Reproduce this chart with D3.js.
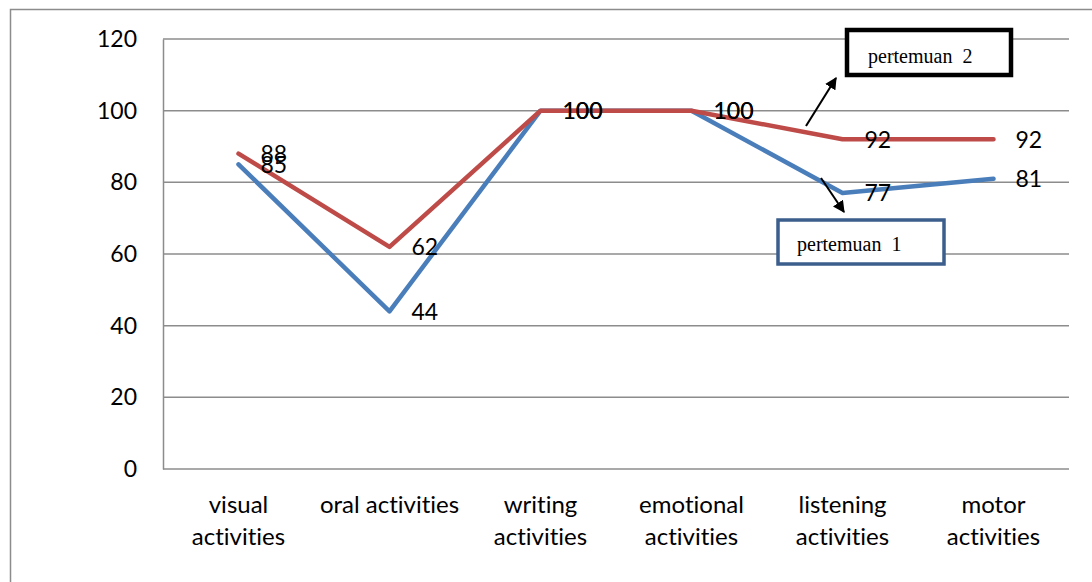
<!DOCTYPE html>
<html>
<head>
<meta charset="utf-8">
<script src="https://cdn.jsdelivr.net/npm/d3@7"></script>
<style>
    body { margin: 0; background: #fff; }
    svg { display: block; font-variant-ligatures: none; }
</style>
</head>
<body>
<div id="chart"></div>
<script>
// Chart data
const categories = [
    ['visual', 'activities'],
    ['oral activities'],
    ['writing', 'activities'],
    ['emotional', 'activities'],
    ['listening', 'activities'],
    ['motor', 'activities']
];
const pertemuan1 = [85, 44, 100, 100, 77, 81];
const pertemuan2 = [88, 62, 100, 100, 92, 92];
const yTicks = [0, 20, 40, 60, 80, 100, 120];
const seriesNames = ['pertemuan 1', 'pertemuan 2'];

const width = 1092;
const height = 582;
const margin = { top: 39, right: 23, bottom: 113, left: 163 };
const innerW = width - margin.left - margin.right;
const innerH = height - margin.top - margin.bottom;

const svg = d3.select('#chart')
    .append('svg')
    .attr('width', width)
    .attr('height', height)
    .style('font-family', 'Lato, "Open Sans", sans-serif');

// Outer chart border
svg.append('rect')
    .attr('x', 10.5)
    .attr('y', 9.5)
    .attr('width', 1100)
    .attr('height', 600)
    .attr('fill', 'none')
    .attr('stroke', '#8c8c8c')
    .attr('stroke-width', 1.5);

const g = svg.append('g')
    .attr('transform', `translate(${margin.left},${margin.top})`);

const keys = categories.map((d, i) => i);

const x = d3.scaleBand()
    .domain(keys)
    .range([0, innerW]);

const y = d3.scaleLinear()
    .domain([0, 120])
    .range([innerH, 0]);

const cx = i => x(i) + x.bandwidth() / 2;

// Gridlines
g.append('g')
    .attr('class', 'grid')
    .selectAll('line')
    .data(yTicks)
    .join('line')
    .attr('x1', 0)
    .attr('x2', innerW)
    .attr('y1', d => y(d))
    .attr('y2', d => y(d))
    .attr('stroke', '#8c8c8c')
    .attr('stroke-width', 1.5);

// Y axis
const yAxis = g.append('g')
    .call(d3.axisLeft(y).tickValues(yTicks).tickSize(0).tickPadding(26));
yAxis.select('.domain')
    .attr('stroke', '#8c8c8c')
    .attr('stroke-width', 1.5);
yAxis.selectAll('text')
    .attr('font-size', 23)
    .attr('font-family', 'Lato, "Open Sans", sans-serif')
    .attr('fill', '#000');

// X axis labels
const xLabels = g.append('g')
    .attr('class', 'x-labels')
    .selectAll('text')
    .data(categories)
    .join('text')
    .attr('text-anchor', 'middle')
    .attr('font-size', 24)
    .attr('fill', '#000');

xLabels.selectAll('tspan')
    .data((d, i) => d.map(line => ({ line, i })))
    .join('tspan')
    .attr('x', d => cx(d.i))
    .attr('y', (d, j) => innerH + 44 + j * 32)
    .text(d => d.line);

// Lines
const line = d3.line()
    .x((d, i) => cx(i))
    .y(d => y(d));

const series = [
    { name: seriesNames[0], values: pertemuan1, color: '#4a7ebb' },
    { name: seriesNames[1], values: pertemuan2, color: '#be4b48' }
];

series.forEach(s => {
    g.append('path')
        .datum(s.values)
        .attr('fill', 'none')
        .attr('stroke', s.color)
        .attr('stroke-width', 4.5)
        .attr('stroke-linejoin', 'round')
        .attr('stroke-linecap', 'round')
        .attr('d', line);
});

// Data labels
series.forEach(s => {
    g.append('g')
        .selectAll('text')
        .data(s.values)
        .join('text')
        .attr('x', (d, i) => cx(i) + 22)
        .attr('y', d => y(d))
        .attr('dy', '0.36em')
        .attr('font-size', 23)
        .attr('fill', '#000')
        .text(d => d);
});

// Annotation boxes with arrows
svg.append('defs')
    .append('marker')
    .attr('id', 'arrow')
    .attr('viewBox', '0 0 10 10')
    .attr('refX', 9)
    .attr('refY', 5)
    .attr('markerWidth', 6)
    .attr('markerHeight', 6)
    .attr('orient', 'auto')
    .append('path')
    .attr('d', 'M0,0 L10,5 L0,10 z')
    .attr('fill', '#000');

const annotations = [
    { text: seriesNames[1], box: [847, 30, 164, 45], stroke: '#000', sw: 4.5, tx: 868, ty: 63, arrow: [806, 126, 836, 78] },
    { text: seriesNames[0], box: [778, 220, 166, 44], stroke: '#3b5e8c', sw: 3.5, tx: 797, ty: 251, arrow: [821, 178, 844, 212] }
];

annotations.forEach(a => {
    svg.append('rect')
        .attr('x', a.box[0])
        .attr('y', a.box[1])
        .attr('width', a.box[2])
        .attr('height', a.box[3])
        .attr('fill', '#fff')
        .attr('stroke', a.stroke)
        .attr('stroke-width', a.sw);

    svg.append('text')
        .attr('x', a.tx)
        .attr('y', a.ty)
        .attr('font-family', '"Liberation Serif", "DejaVu Serif", serif')
        .attr('font-size', 20)
        .attr('fill', '#000')
        .attr('xml:space', 'preserve')
        .text(a.text.replace(' ', '  '));

    svg.append('line')
        .attr('x1', a.arrow[0])
        .attr('y1', a.arrow[1])
        .attr('x2', a.arrow[2])
        .attr('y2', a.arrow[3])
        .attr('stroke', '#000')
        .attr('stroke-width', 2)
        .attr('marker-end', 'url(#arrow)');
});
</script>
</body>
</html>
